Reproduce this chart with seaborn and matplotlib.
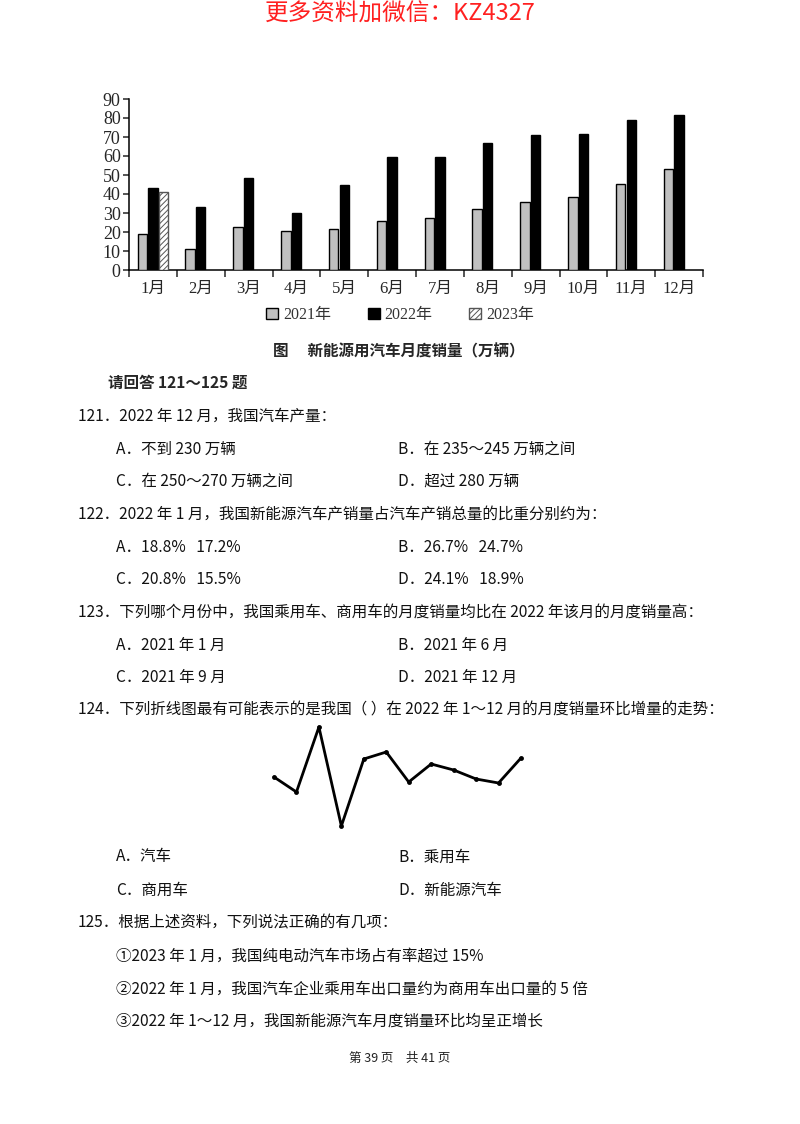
import matplotlib
matplotlib.use("Agg")
import matplotlib.pyplot as plt
import seaborn as sns
import pandas as pd
import numpy as np

# ---------------- data ----------------
months = ["1月", "2月", "3月", "4月", "5月", "6月", "7月", "8月", "9月", "10月", "11月", "12月"]
sales_2021 = [19.2, 11.0, 22.5, 20.6, 21.7, 25.6, 27.2, 32.0, 35.9, 38.2, 45.2, 53.2]
sales_2022 = [43.1, 33.4, 48.4, 29.9, 44.7, 59.6, 59.5, 66.9, 71.0, 71.6, 78.9, 81.6]
sales_2023 = [40.8]
series_names = ["2021年", "2022年", "2023年"]
y_ticks = [0, 10, 20, 30, 40, 50, 60, 70, 80, 90]

trend_x = list(range(1, 13))
trend_y = [53, 38, 103, 4, 71, 78, 48, 66, 60, 51, 47, 72]

df = pd.DataFrame({
    "month": months * 2 + months[:1],
    "value": sales_2021 + sales_2022 + sales_2023,
    "year": [series_names[0]] * 12 + [series_names[1]] * 12 + [series_names[2]],
})

sns.set_style("ticks")
CJK = ["Noto Sans CJK SC", "DejaVu Sans"]
SERIF = ["Liberation Serif", "Noto Sans CJK SC"]
plt.rcParams["font.family"] = CJK
plt.rcParams["hatch.linewidth"] = 0.7

W, H = 800, 1124
fig = plt.figure(figsize=(W / 100, H / 100), dpi=100)
fig.patch.set_facecolor("white")


def fx(px):
    return px / W


def fy(py):
    return 1 - py / H


# ---------------- bar chart ----------------
ax = fig.add_axes([fx(129), fy(270), fx(703) - fx(129), fy(99) - fy(270)])
palette = {series_names[0]: "#c0c0c0", series_names[1]: "#000000", series_names[2]: "#ffffff"}
sns.barplot(data=df, x="month", y="value", hue="year", order=months,
            hue_order=series_names, palette=palette, width=0.66, gap=0.1,
            edgecolor="black", linewidth=1.0, legend=False, ax=ax, zorder=3)
for p in ax.containers[2]:
    p.set_hatch("//////")
    p.set_edgecolor("#555555")

ax.set_xlim(-0.5, 11.5)
ax.set_ylim(0, 90)
ax.set_yticks(y_ticks)
ax.set_xlabel("")
ax.set_ylabel("")
for s in ["top", "right"]:
    ax.spines[s].set_visible(False)
for s in ["left", "bottom"]:
    ax.spines[s].set_linewidth(1.1)
    ax.spines[s].set_color("black")
ax.set_xticks(np.arange(-0.5, 12, 1), minor=True)
ax.tick_params(axis="x", which="major", length=0, pad=8)
ax.tick_params(axis="x", which="minor", length=5, width=1.1, direction="out")
ax.tick_params(axis="y", length=4, width=1.1, direction="out", pad=2)
for lab in ax.get_xticklabels():
    lab.set_family(SERIF)
    lab.set_fontsize(12)
for lab in ax.get_yticklabels():
    lab.set_family(SERIF)
    lab.set_fontsize(13)

leg = fig.legend(ax.containers, series_names, loc="center",
                 bbox_to_anchor=(fx(400), fy(315)), ncol=3, frameon=False,
                 handlelength=0.75, handleheight=0.75, handletextpad=0.3,
                 columnspacing=2.3, prop={"family": SERIF, "size": 11.5})
for t in leg.get_texts():
    t.set_color("#333333")

# ---------------- small line chart ----------------
ax2 = fig.add_axes([fx(274), fy(826), fx(521) - fx(274), fy(727) - fy(826)])
sns.lineplot(x=trend_x, y=trend_y, ax=ax2, color="black", linewidth=2.0,
             marker="o", markersize=3.5, markeredgewidth=0, clip_on=False)
ax2.set_xlim(1, 12)
ax2.set_ylim(4, 103)
ax2.axis("off")

# ---------------- page text ----------------
FS = 11.2
fig.text(fx(400), fy(14), "更多资料加微信：KZ4327", ha="center", va="center",
         fontsize=17, color="#ff2020", family=CJK, fontweight="light")
fig.text(fx(399), fy(351), "图　 新能源用汽车月度销量（万辆）", ha="center", va="center",
         fontsize=FS, fontweight="bold", family=CJK)
fig.text(fx(108), fy(383), "请回答 121～125 题", ha="left", va="center",
         fontsize=FS, fontweight="bold", family=CJK)

lines = [
    (78, 416, "121．2022 年 12 月，我国汽车产量："),
    (116, 449, "A．不到 230 万辆"), (398, 449, "B．在 235～245 万辆之间"),
    (116, 481, "C．在 250～270 万辆之间"), (398, 481, "D．超过 280 万辆"),
    (78, 514, "122．2022 年 1 月，我国新能源汽车产销量占汽车产销总量的比重分别约为："),
    (116, 547, "A．18.8%   17.2%"), (398, 547, "B．26.7%   24.7%"),
    (116, 579, "C．20.8%   15.5%"), (398, 579, "D．24.1%   18.9%"),
    (78, 612, "123．下列哪个月份中，我国乘用车、商用车的月度销量均比在 2022 年该月的月度销量高："),
    (116, 645, "A．2021 年 1 月"), (398, 645, "B．2021 年 6 月"),
    (116, 677, "C．2021 年 9 月"), (398, 677, "D．2021 年 12 月"),
    (78, 710, "124．下列折线图最有可能表示的是我国（ ）在 2022 年 1～12 月的月度销量环比增量的走势："),
    (116, 857, "A．汽车"), (398, 857, "B．乘用车"),
    (116, 890, "C．商用车"), (398, 890, "D．新能源汽车"),
    (78, 923, "125．根据上述资料，下列说法正确的有几项："),
    (116, 956, "①2023 年 1 月，我国纯电动汽车市场占有率超过 15%"),
    (116, 989, "②2022 年 1 月，我国汽车企业乘用车出口量约为商用车出口量的 5 倍"),
    (116, 1021, "③2022 年 1～12 月，我国新能源汽车月度销量环比均呈正增长"),
]
for x, y, s in lines:
    fig.text(fx(x), fy(y), s, ha="left", va="center", fontsize=FS, family=CJK, color="#111111")

fig.text(fx(400), fy(1058), "第 39 页　共 41 页", ha="center", va="center",
         fontsize=9, family=CJK, color="#222222")

fig.savefig("out.png", dpi=100, facecolor="white")
